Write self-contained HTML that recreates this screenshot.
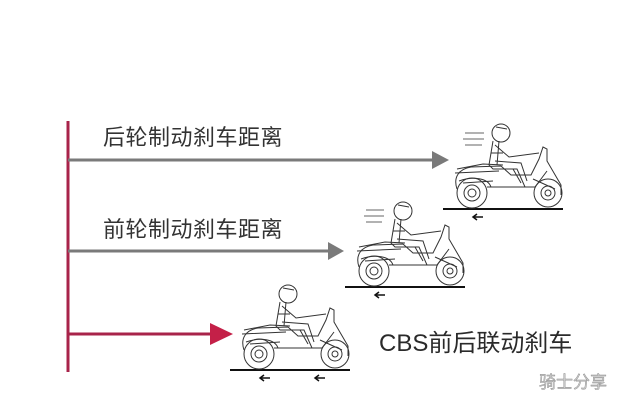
<!DOCTYPE html>
<html><head><meta charset="utf-8"><style>
html,body{margin:0;padding:0;background:#fff;}
svg{display:block}
text{font-family:"Liberation Sans","Noto Sans CJK SC",sans-serif;}
</style></head><body>
<svg width="630" height="401" viewBox="0 0 630 401" xmlns="http://www.w3.org/2000/svg">
<defs>
<g id="sc" fill="none" stroke="#333" stroke-width="1">
  <line x1="0" y1="0" x2="120" y2="0" stroke="#111" stroke-width="2"/>
  <circle cx="29" cy="-16" r="15"/><circle cx="29" cy="-16" r="8"/><circle cx="29" cy="-16" r="4"/>
  <circle cx="105" cy="-16" r="14"/><circle cx="105" cy="-16" r="7"/><circle cx="105" cy="-16" r="3"/>
  <path d="M14,-20 C10,-32 16,-40 28,-42 L58,-43 L68,-34 L88,-34 L96,-50 L100,-62 L104,-60 L104,-48 L118,-24 L118,-14"/>
  <path d="M14,-40 L40,-45 L60,-44 M44,-22 L92,-22 L104,-38 M12,-36 L56,-38 M20,-26 L50,-28 M90,-30 L112,-20"/>
  <path d="M16,-28 C30,-33 45,-31 48,-22"/>
  <circle cx="58" cy="-76" r="9"/>
  <path d="M53,-82 L64,-80 M50,-68 L46,-44 L50,-40 L74,-40 L82,-22 L90,-22 M52,-64 L66,-52 L96,-56 M52,-48 L78,-46 L84,-28 M56,-68 L54,-44 M48,-56 L60,-56 M70,-40 L78,-26"/>
  <path d="M40,8 L30,8 M34,5 L30,8 L34,11" stroke="#111" stroke-width="1.5"/>
</g>
</defs>
<line x1="68" y1="121" x2="68" y2="372" stroke="#a8234a" stroke-width="3"/>
<line x1="68" y1="160" x2="434" y2="160" stroke="#7a7a7a" stroke-width="3"/>
<polygon points="432,151 449,160 432,169" fill="#7a7a7a"/>
<line x1="68" y1="251" x2="330" y2="251" stroke="#7a7a7a" stroke-width="3"/>
<polygon points="328,242 344,251 328,260" fill="#7a7a7a"/>
<line x1="68" y1="334" x2="212" y2="334" stroke="#a8234a" stroke-width="3"/>
<polygon points="210,323 233,334 210,345" fill="#c42048"/>
<text x="103" y="145" font-size="22" fill="#333" letter-spacing="0.5">后轮制动刹车距离</text>
<text x="103" y="237" font-size="22" fill="#333" letter-spacing="0.5">前轮制动刹车距离</text>
<text x="379" y="351" font-size="24" fill="#2a2a2a">CBS前后联动刹车</text>
<text x="539" y="388" font-size="17" fill="#ccc" stroke="#888" stroke-width="0.4">骑士分享</text>
<g stroke="#999" stroke-width="1.5">
<line x1="465" y1="133" x2="484" y2="133"/><line x1="463" y1="139" x2="484" y2="139"/><line x1="465" y1="145" x2="482" y2="145"/>
<line x1="366" y1="210" x2="384" y2="210"/><line x1="364" y1="216" x2="384" y2="216"/><line x1="366" y1="222" x2="382" y2="222"/>
</g>
<use href="#sc" x="443" y="209"/>
<use href="#sc" x="345" y="287"/>
<use href="#sc" x="230" y="370"/>
<path d="M325,378 L315,378 M319,375 L315,378 L319,381" stroke="#111" stroke-width="1.5" fill="none"/>
</svg>
</body></html>
